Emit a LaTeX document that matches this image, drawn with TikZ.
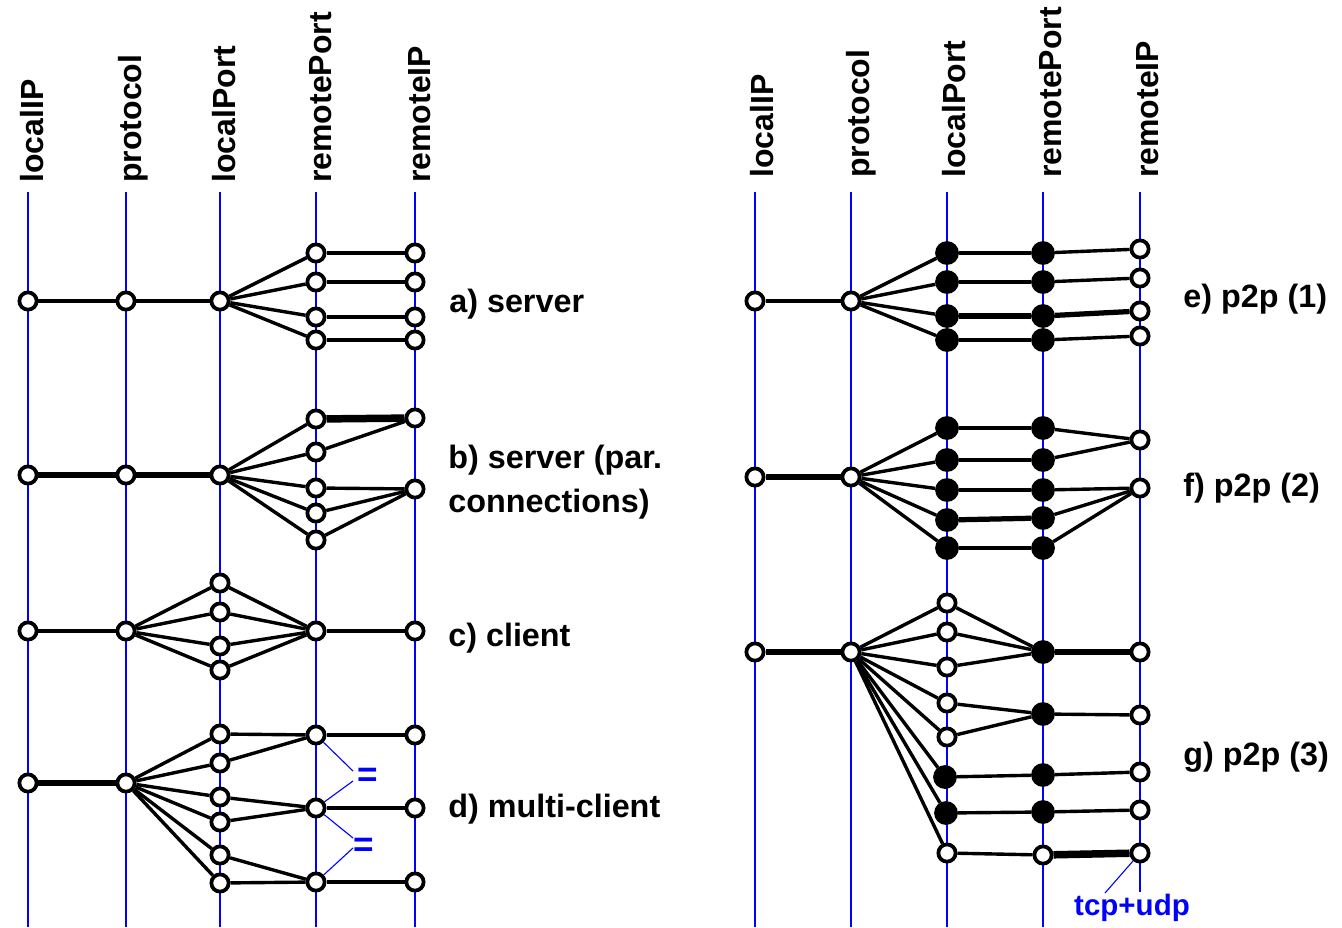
\documentclass[tikz,border=0pt]{standalone}
\usepackage{fontspec}
\setmainfont{Liberation Sans}
\begin{document}
\begin{tikzpicture}[x=0.02cm,y=-0.02cm,
  axis/.style={draw=blue, line width=0.045cm},
  onode/.style={circle, draw=black, fill=white, line width=0.075cm, minimum size=0.345cm, inner sep=0pt},
  fnode/.style={circle, draw=black, fill=black, line width=0.075cm, minimum size=0.40cm, inner sep=0pt},
  link/.style={draw=black, line width=0.068cm},
  tlink/.style={draw=black, line width=0.105cm},
  ttlink/.style={draw=black, line width=0.15cm},
  collabel/.style={rotate=90, anchor=base west, inner sep=0pt, font=\bfseries\fontsize{18.2pt}{20pt}\selectfont},
  caselabel/.style={anchor=base west, inner sep=0pt, font=\bfseries\fontsize{18.4pt}{20pt}\selectfont},
  note/.style={draw=blue, line width=0.022cm},
  notetext/.style={text=blue, inner sep=0pt, font=\bfseries\fontsize{16.8pt}{18pt}\selectfont},
  eqtext/.style={text=blue, inner sep=0pt, font=\bfseries\fontsize{20pt}{22pt}\selectfont},
]
\useasboundingbox (0,0) rectangle (1342,927);

% ---------- column axes and headings ----------
\foreach \n/\x/\txt in {1/28/localIP, 2/126/protocol, 3/220/localPort, 4/316/remotePort, 5/415/remoteIP} {
  \coordinate (Lt\n) at (\x,192);
  \coordinate (Lb\n) at (\x,927);
  \draw[axis] (Lt\n) -- (Lb\n);
  \node[collabel] (Lh\n) at (\x+15,183) {\txt};
}
\foreach \n/\x/\txt in {1/755/localIP, 2/851/protocol, 3/947/localPort, 4/1043/remotePort} {
  \coordinate (Rt\n) at (\x,192);
  \coordinate (Rb\n) at (\x,927);
  \draw[axis] (Rt\n) -- (Rb\n);
  \node[collabel] (Rh\n) at (\x+18,178) {\txt};
}
\coordinate (Rt5) at (1140,192);
\coordinate (Rb5) at (1140,892);
\draw[axis] (Rt5) -- (Rb5);
\node[collabel] (Rh5) at (1158,178) {remoteIP};

% ---------- a) server ----------
\node[onode] (a1) at (28,301) {};
\node[onode] (a2) at (126,301) {};
\node[onode] (a3) at (220,301) {};
\foreach \i/\y in {1/253,2/282,3/317,4/340} {
  \node[onode] (a4\i) at (316,\y) {};
  \node[onode] (a5\i) at (415,\y) {};
}
\draw[link] (a1) -- (a2);
\draw[link] (a2) -- (a3);
\foreach \i in {1,...,4} {
  \draw[link] (a3) -- (a4\i);
  \draw[link] (a4\i) -- (a5\i);
}
\node[caselabel] (la) at (449,312) {a) server};

% ---------- b) server (parallel connections) ----------
\node[onode] (b1) at (28,475) {};
\node[onode] (b2) at (126,475) {};
\node[onode] (b3) at (220,475) {};
\foreach \i/\y in {1/419,2/452,3/488,4/513,5/540} {
  \node[onode] (b4\i) at (316,\y) {};
}
\node[onode] (b51) at (415,418) {};
\node[onode] (b52) at (415,489) {};
\draw[tlink] (b1) -- (b2);
\draw[tlink] (b2) -- (b3);
\foreach \i in {1,...,5} { \draw[link] (b3) -- (b4\i); }
\draw[ttlink] (b41) -- (b51);
\draw[link] (b42) -- (b51);
\foreach \i in {3,4,5} { \draw[link] (b4\i) -- (b52); }
\node[caselabel] (lb1) at (448,468) {b) server (par.};
\node[caselabel] (lb2) at (448,512) {connections)};

% ---------- c) client ----------
\node[onode] (c1) at (28,631) {};
\node[onode] (c2) at (126,631) {};
\foreach \i/\y in {1/583,2/612,3/646,4/670} {
  \node[onode] (c3\i) at (220,\y) {};
}
\node[onode] (c4) at (316,631) {};
\node[onode] (c5) at (415,631) {};
\draw[link] (c1) -- (c2);
\foreach \i in {1,...,4} {
  \draw[link] (c2) -- (c3\i);
  \draw[link] (c3\i) -- (c4);
}
\draw[link] (c4) -- (c5);
\node[caselabel] (lc) at (448,646) {c) client};

% ---------- d) multi-client ----------
\node[onode] (d1) at (28,783) {};
\node[onode] (d2) at (126,783) {};
\foreach \i/\y in {1/734,2/763,3/797,4/822,5/855,6/883} {
  \node[onode] (d3\i) at (220,\y) {};
}
\foreach \j/\y in {1/735,2/808,3/882} {
  \node[onode] (d4\j) at (316,\y) {};
  \node[onode] (d5\j) at (415,\y) {};
}
\draw[tlink] (d1) -- (d2);
\foreach \i in {1,...,6} { \draw[link] (d2) -- (d3\i); }
\draw[link] (d31) -- (d41);
\draw[link] (d32) -- (d41);
\draw[link] (d33) -- (d42);
\draw[link] (d34) -- (d42);
\draw[link] (d35) -- (d43);
\draw[link] (d36) -- (d43);
\foreach \j in {1,2,3} { \draw[link] (d4\j) -- (d5\j); }
\coordinate (q1) at (353,771);
\coordinate (q2) at (353,781);
\coordinate (q3) at (353,838);
\coordinate (q4) at (353,848);
\draw[note] (d41) -- (q1);
\draw[note] (q2) -- (d42);
\draw[note] (d42) -- (q3);
\draw[note] (q4) -- (d43);
\node[eqtext] (eq1) at (368,777) {=};
\node[eqtext] (eq2) at (364,847) {=};
\node[caselabel] (ld) at (448,817) {d) multi-client};

% ---------- e) p2p (1) ----------
\node[onode] (e1) at (755,301) {};
\node[onode] (e2) at (851,301) {};
\foreach \i/\y/\z in {1/253/249,2/282/278,3/316/311,4/340/336} {
  \node[fnode] (e3\i) at (947,\y) {};
  \node[fnode] (e4\i) at (1043,\y) {};
  \node[onode] (e5\i) at (1140,\z) {};
}
\draw[link] (e1) -- (e2);
\foreach \i in {1,2,4} {
  \draw[link] (e2) -- (e3\i);
  \draw[link] (e3\i) -- (e4\i);
  \draw[link] (e4\i) -- (e5\i);
}
\draw[link] (e2) -- (e33);
\draw[tlink] (e33) -- (e43);
\draw[tlink] (e43) -- (e53);
\node[caselabel] (le) at (1183,307) {e) p2p (1)};

% ---------- f) p2p (2) ----------
\node[onode] (f1) at (755,477) {};
\node[onode] (f2) at (851,477) {};
\foreach \i/\y/\z in {1/428/428,2/460/460,3/490/490,4/520/518,5/548/548} {
  \node[fnode] (f3\i) at (947,\y) {};
  \node[fnode] (f4\i) at (1043,\z) {};
}
\node[onode] (f51) at (1140,440) {};
\node[onode] (f52) at (1140,488) {};
\draw[tlink] (f1) -- (f2);
\foreach \i in {1,...,5} { \draw[link] (f2) -- (f3\i); }
\foreach \i in {1,2,3,5} { \draw[link] (f3\i) -- (f4\i); }
\draw[tlink] (f34) -- (f44);
\draw[link] (f41) -- (f51);
\draw[link] (f42) -- (f51);
\foreach \i in {3,4,5} { \draw[link] (f4\i) -- (f52); }
\node[caselabel] (lf) at (1183,496) {f) p2p (2)};

% ---------- g) p2p (3) ----------
\node[onode] (g1) at (755,652) {};
\node[onode] (g2) at (851,652) {};
\foreach \i/\y in {1/603,2/632,3/667,4/703,5/737,8/853} {
  \node[onode] (g3\i) at (947,\y) {};
}
\node[fnode] (g36) at (945,777) {};
\node[fnode] (g37) at (946,813) {};
\foreach \j/\y in {1/652,2/714,3/775,4/812} {
  \node[fnode] (g4\j) at (1043,\y) {};
}
\node[onode] (g45) at (1043,855) {};
\foreach \j/\y in {1/652,2/715,3/772,4/810,5/853} {
  \node[onode] (g5\j) at (1140,\y) {};
}
\draw[tlink] (g1) -- (g2);
\foreach \i in {1,...,8} { \draw[link] (g2) -- (g3\i); }
\draw[link] (g31) -- (g41);
\draw[link] (g32) -- (g41);
\draw[link] (g33) -- (g41);
\draw[link] (g34) -- (g42);
\draw[link] (g35) -- (g42);
\draw[link] (g36) -- (g43);
\draw[link] (g37) -- (g44);
\draw[link] (g38) -- (g45);
\draw[tlink] (g41) -- (g51);
\foreach \j in {2,3,4} { \draw[link] (g4\j) -- (g5\j); }
\draw[ttlink] (g45) -- (g55);
\coordinate (tu) at (1105,893);
\draw[note] (g55) -- (tu);
\node[notetext] (tcpudp) at (1132,908) {tcp+udp};
\node[caselabel] (lg) at (1183,765) {g) p2p (3)};
\end{tikzpicture}
\end{document}
